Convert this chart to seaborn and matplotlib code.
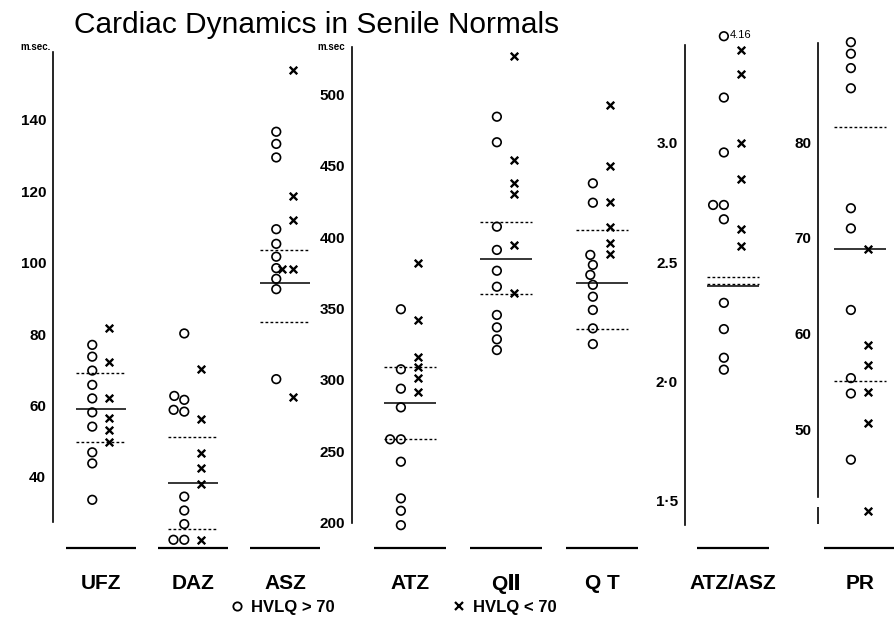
import numpy as np
import pandas as pd
import matplotlib
matplotlib.use("Agg")
import matplotlib.pyplot as plt
from matplotlib.lines import Line2D
import seaborn as sns

# ---------------- data ----------------
categories = ["UFZ", "DAZ", "ASZ", "ATZ", "QII", "QT", "ATZ/ASZ", "PR"]
tick_labels = ["UFZ", "DAZ", "ASZ", "ATZ", "QⅡ", "Q T", "ATZ/ASZ", "PR"]

# HVLQ > 70 (circles)
ufz_high = [77, 73.7, 69.8, 65.8, 62, 58.1, 54.1, 46.9, 43.8, 33.6]
daz_high = [80.2, 62.7, 61.6, 58.8, 58.3, 34.5, 30.6, 26.8, 22.4, 22.4]
asz_high = [136.7, 133.3, 129.5, 109.4, 105.3, 101.7, 98.5, 95.5, 92.6, 67.4]
atz_high = [349.4, 307.3, 293.7, 280.6, 258.2, 258.2, 242.5, 216.8, 208.1, 198]
q2_high = [484.4, 466.5, 407.3, 391, 376.4, 365.2, 345.4, 336.7, 328.3, 320.8]
qt_high = [437.7, 424.1, 387.5, 380.5, 373.5, 366.5, 358.2, 348.9, 336, 325]
ratio_high = [4.16, 3.19, 2.96, 2.74, 2.74, 2.68, 2.33, 2.22, 2.10, 2.05]
pr_high = [90.4, 89.2, 87.7, 85.6, 73.1, 71.0, 62.5, 55.4, 53.8, 46.9]

# HVLQ < 70 (crosses)
ufz_low = [81.7, 72.3, 62, 56.4, 53.2, 49.9]
daz_low = [70.3, 56.2, 46.6, 42.4, 38, 22.4]
asz_low = [154, 118.8, 112, 98.2, 98.2, 62.5]
atz_low = [381.6, 341.9, 315.7, 308.7, 301, 291.2]
q2_low = [527, 454, 437.7, 430.2, 394.5, 360.6]
qt_low = [492.6, 450, 424.8, 406.9, 396, 388]
ratio_low = [3.39, 3.29, 3.00, 2.85, 2.64, 2.57]
pr_low = [68.9, 58.9, 56.8, 54.0, 50.7, 41.6]

# group mean (solid) and upper / lower dashed lines
mean_line = [59, 38.4, 94.3, 283.9, 384.4, 368, 2.40, 68.9]
upper_line = [69.2, 51.1, 103.6, 308.7, 410.8, 405, 2.44, 81.6]
lower_line = [49.7, 25.4, 83.3, 258.4, 360.1, 335.3, 2.41, 55.1]

# axis ticks of the four panels
ticks_p1 = [40, 60, 80, 100, 120, 140]
ticks_p2 = [200, 250, 300, 350, 400, 450, 500]
ticks_p3 = [1.5, 2.0, 2.5, 3.0]
ticklabels_p3 = ["1·5", "2·0", "2.5", "3.0"]
ticks_p4 = [50, 60, 70, 80]

high_lists = [ufz_high, daz_high, asz_high, atz_high, q2_high, qt_high, ratio_high, pr_high]
low_lists = [ufz_low, daz_low, asz_low, atz_low, q2_low, qt_low, ratio_low, pr_low]

rows = []
for cat, hi, lo in zip(categories, high_lists, low_lists):
    rows += [(cat, "HVLQ > 70", v) for v in hi]
    rows += [(cat, "HVLQ < 70", v) for v in lo]
df = pd.DataFrame(rows, columns=["measure", "group", "value"])

# ---------------- styling ----------------
sns.set_style("white")
plt.rcParams["font.family"] = ["Liberation Sans", "DejaVu Sans"]
plt.rcParams.update({
    "text.color": "black", "axes.labelcolor": "black", "xtick.color": "black",
    "ytick.color": "black", "axes.edgecolor": "black",
})

fig = plt.figure(figsize=(8.94, 6.28), dpi=100)
W, H = 894.0, 628.0
top_px, bot_px = 30.0, 548.0

panels = [
    # cats, left px, right px, px per category, first category centre px, ylim, spine bounds, ticks, ticklabels
    (["UFZ", "DAZ", "ASZ"], 53, 330, 92, 101, (20.1, 165.2), (27.4, 159), ticks_p1, None),
    (["ATZ", "QII", "QT"], 352, 650, 96, 410, (182.0, 545.2), (199.5, 533.5), ticks_p2, None),
    (["ATZ/ASZ"], 685, 800, 96, 733, (1.303, 3.473), (1.40, 3.41), ticks_p3, ticklabels_p3),
    (["PR"], 818, 894, 96, 860, (37.7, 91.67), (43.05, 90.3), ticks_p4, None),
]

off_high, off_low = -0.095, 0.085
axes = []
for cats, lpx, rpx, unit, c0, ylim, bounds, ticks, tlabels in panels:
    ax = fig.add_axes([lpx / W, 1 - bot_px / H, (rpx - lpx) / W, (bot_px - top_px) / H])
    axes.append(ax)
    pos = {c: i for i, c in enumerate(cats)}
    sub = df[df["measure"].isin(cats)].copy()
    sub["plot_value"] = np.minimum(sub["value"], ylim[1] - 0.012 * (ylim[1] - ylim[0]))
    hi = sub[sub["group"] == "HVLQ > 70"].copy()
    lo = sub[sub["group"] == "HVLQ < 70"].copy()
    hi["xpos"] = hi["measure"].map(pos) + off_high
    lo["xpos"] = lo["measure"].map(pos) + off_low

    sns.swarmplot(data=hi, x="xpos", y="plot_value", native_scale=True, orient="x",
                  ax=ax, color="black", marker="o", facecolors="none",
                  edgecolor="black", linewidth=1.2, size=6.2, warn_thresh=1)
    sns.swarmplot(data=lo, x="xpos", y="plot_value", native_scale=True, orient="x",
                  ax=ax, color="black", marker="x", linewidth=1.7, size=5.4,
                  warn_thresh=1)

    for c in cats:
        i = pos[c]
        k = categories.index(c)
        ax.hlines(mean_line[k], i - 0.27, i + 0.27, color="black", lw=1.1)
        ax.hlines([upper_line[k], lower_line[k]], i - 0.27, i + 0.27, color="black",
                  lw=1.0, linestyles=(0, (2.0, 1.6)))
        ax.hlines(ylim[0], i - 0.38, i + 0.38, color="black", lw=1.6, clip_on=False)

    ax.set_xlim(-(c0 - lpx) / unit, (rpx - c0) / unit)
    ax.set_ylim(*ylim)
    ax.set_xticks(range(len(cats)))
    ax.set_xticklabels([tick_labels[categories.index(c)] for c in cats],
                       fontsize=15, fontweight="bold")
    ax.tick_params(axis="x", length=0, pad=19)
    ax.set_yticks(ticks)
    if tlabels is not None:
        ax.set_yticklabels(tlabels)
    ax.tick_params(axis="y", length=3, width=1, pad=2, labelsize=11, direction="out")
    for lab in ax.get_yticklabels():
        lab.set_fontweight("bold")
    ax.set_xlabel("")
    ax.set_ylabel("")
    for s in ["top", "right", "bottom"]:
        ax.spines[s].set_visible(False)
    ax.spines["left"].set_linewidth(1.2)
    ax.spines["left"].set_bounds(*bounds)
    ax.patch.set_alpha(0)

# off-scale value annotation in the ratio panel
ax3 = axes[2]
ratio_top = max(ratio_high)
y3 = ax3.get_ylim()
ax3.annotate(f"{ratio_top:.2f}", xy=(off_high, y3[1] - 0.012 * (y3[1] - y3[0])),
             xytext=(4, 1), textcoords="offset points", fontsize=8, va="center", ha="left")

# broken-axis stub of the PR panel
ax4 = axes[3]
ax4.vlines(ax4.get_xlim()[0], 40.2, 42.0, color="black", lw=1.2, clip_on=False)

# units
fig.text(20 / W, 1 - 47 / H, "m.sec.", fontsize=7, fontweight="bold", va="center", ha="left")
fig.text(317 / W, 1 - 47 / H, "m.sec", fontsize=7, fontweight="bold", va="center", ha="left")

# title
fig.text(74 / W, 1 - 33 / H, "Cardiac Dynamics in Senile Normals", fontsize=21.5,
         va="baseline", ha="left")

# legend
handles = [
    Line2D([], [], ls="none", marker="o", mfc="none", mec="black", mew=1.3, ms=6),
    Line2D([], [], ls="none", marker="x", color="black", mew=1.6, ms=5.5),
]
fig.legend(handles, ["HVLQ > 70", "HVLQ < 70"], loc="center", bbox_to_anchor=(0.44, 0.033),
           ncol=2, frameon=False, columnspacing=7.0, handlelength=0.9, handletextpad=0.4,
           prop={"weight": "bold", "size": 12})

fig.savefig("out.png", dpi=100)
